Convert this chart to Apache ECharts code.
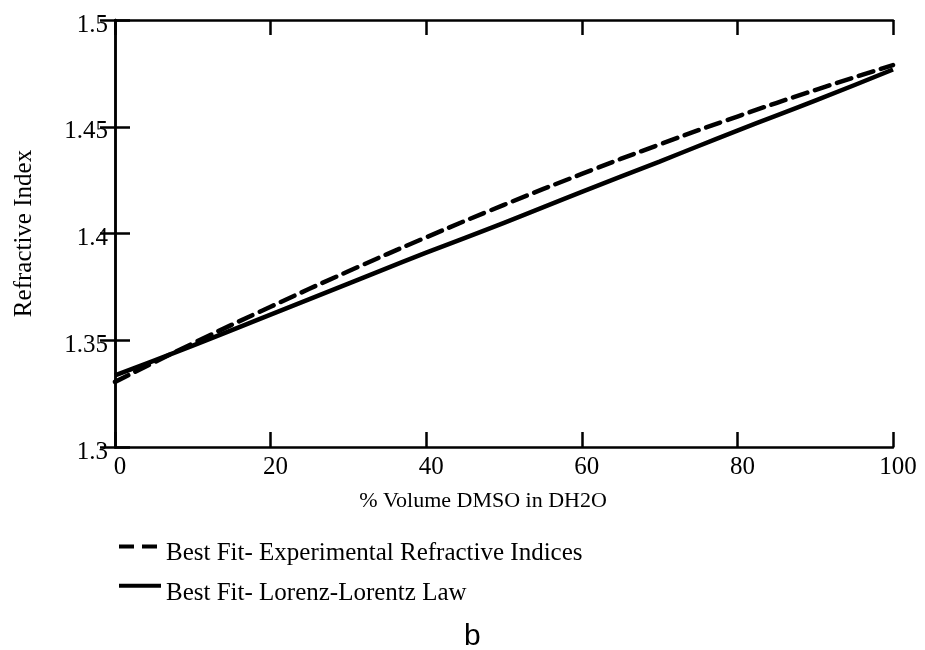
<!DOCTYPE html>
<html>
<head>
<meta charset="utf-8">
<script src="https://cdn.jsdelivr.net/npm/echarts@6/dist/echarts.min.js"></script>
<style>html,body{margin:0;padding:0;background:#fff}#c{width:925px;height:650px}</style>
</head>
<body>
<div id="c"></div>
<script>
// Data
const xValues = [0, 10, 20, 30, 40, 50, 60, 70, 80, 90, 100];
const experimentalFit = [1.3305, 1.3485, 1.3657, 1.3823, 1.3982, 1.4134, 1.4279, 1.4417, 1.4548, 1.4672, 1.4789];
const lorenzFit = [1.3335, 1.3475, 1.3620, 1.3765, 1.3910, 1.4050, 1.4195, 1.4337, 1.4482, 1.4622, 1.4768];
const seriesNames = ['Best Fit- Experimental Refractive Indices', 'Best Fit- Lorenz-Lorentz Law'];
const xTicks = [0, 20, 40, 60, 80, 100];
const yTicks = [1.3, 1.35, 1.4, 1.45, 1.5];
const xTitle = '% Volume DMSO in DH2O';
const yTitle = 'Refractive Index';
const caption = 'b';

const serif = '"Liberation Serif", "Times New Roman", serif';
const black = '#000';

function pairs(xs, ys) { return xs.map((x, i) => [x, ys[i]]); }

const axisLineStyle = { show: true, lineStyle: { color: black, width: 2.5 } };
const tickStyle = { show: true, inside: true, length: 15, lineStyle: { color: black, width: 2.5 } };

const chart = echarts.init(document.getElementById('c'), null, { renderer: 'canvas' });
chart.setOption({
  backgroundColor: '#fff',
  animation: false,
  title: {
    text: caption,
    left: 459, top: 617,
    textStyle: { fontFamily: '"Liberation Sans", Arial, sans-serif', fontSize: 30, fontWeight: 'normal', color: black }
  },
  grid: { left: 115, right: 32, top: 20, bottom: 203, containLabel: false },
  legend: {
    orient: 'vertical',
    left: 112, top: 535,
    itemWidth: 42, itemHeight: 16,
    itemGap: 13,
    data: seriesNames,
    formatter: name => '{t|' + name + '}',
    itemStyle: { color: 'rgba(0,0,0,0)', borderColor: 'rgba(0,0,0,0)', borderWidth: 0, opacity: 0 },
    lineStyle: { width: 4, color: black, cap: 'butt' },
    textStyle: {
      fontFamily: serif, fontSize: 25, color: black,
      rich: { t: { fontFamily: serif, fontSize: 25, color: black, padding: [15, 0, 0, 0] } }
    }
  },
  xAxis: [{
    type: 'value', min: xTicks[0], max: xTicks[xTicks.length - 1], interval: 20,
    position: 'bottom',
    axisLine: axisLineStyle, axisTick: tickStyle, splitLine: { show: false },
    axisLabel: { color: black, fontFamily: serif, fontSize: 25, margin: 8, padding: [0, 0, 0, 10] },
    name: xTitle, nameLocation: 'middle', nameGap: 43,
    nameTextStyle: { color: black, fontFamily: serif, fontSize: 22, padding: [0, 42, 0, 0] }
  }, {
    type: 'value', min: xTicks[0], max: xTicks[xTicks.length - 1], interval: 20,
    position: 'top',
    axisLine: axisLineStyle, axisTick: tickStyle, axisLabel: { show: false }, splitLine: { show: false }
  }],
  yAxis: [{
    type: 'value', min: yTicks[0], max: yTicks[yTicks.length - 1], interval: 0.05,
    position: 'left',
    axisLine: axisLineStyle, axisTick: tickStyle, splitLine: { show: false },
    axisLabel: {
      color: black, fontFamily: serif, fontSize: 25, margin: 7, verticalAlign: 'top', lineHeight: 10,
      formatter: v => String(parseFloat(v.toFixed(2)))
    },
    name: yTitle, nameLocation: 'middle', nameGap: 78, nameRotate: 90,
    nameTextStyle: { color: black, fontFamily: serif, fontSize: 25 }
  }, {
    type: 'value', min: yTicks[0], max: yTicks[yTicks.length - 1], interval: 0.05,
    position: 'right',
    axisLine: axisLineStyle, axisTick: tickStyle, axisLabel: { show: false }, splitLine: { show: false }
  }],
  series: [{
    name: seriesNames[0], type: 'line', smooth: true, showSymbol: false, symbol: 'none',
    xAxisIndex: 0, yAxisIndex: 0,
    data: pairs(xValues, experimentalFit),
    lineStyle: { color: black, width: 4.5, type: [15, 8], cap: 'round' },
    itemStyle: { color: black }, z: 3
  }, {
    name: seriesNames[1], type: 'line', smooth: true, showSymbol: false, symbol: 'none',
    xAxisIndex: 0, yAxisIndex: 0,
    data: pairs(xValues, lorenzFit),
    lineStyle: { color: black, width: 4.5, type: 'solid' },
    itemStyle: { color: black }, z: 3
  }]
});
</script>
</body>
</html>
